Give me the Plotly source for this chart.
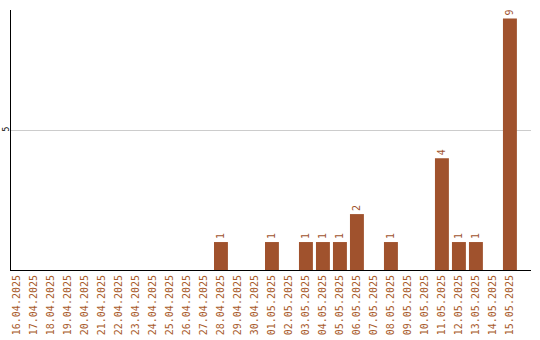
import plotly.graph_objects as go

dates = [
    "16.04.2025", "17.04.2025", "18.04.2025", "19.04.2025", "20.04.2025",
    "21.04.2025", "22.04.2025", "23.04.2025", "24.04.2025", "25.04.2025",
    "26.04.2025", "27.04.2025", "28.04.2025", "29.04.2025", "30.04.2025",
    "01.05.2025", "02.05.2025", "03.05.2025", "04.05.2025", "05.05.2025",
    "06.05.2025", "07.05.2025", "08.05.2025", "09.05.2025", "10.05.2025",
    "11.05.2025", "12.05.2025", "13.05.2025", "14.05.2025", "15.05.2025",
]
counts = [0, 0, 0, 0, 0, 0, 0, 0, 0, 0,
          0, 0, 1, 0, 0, 1, 0, 1, 1, 1,
          2, 0, 1, 0, 0, 4, 1, 1, 0, 9]
y_ticks = [5]

bar_color = "#A0522D"
mono = "DejaVu Sans Mono"

labels = [str(v) if v > 0 else "" for v in counts]

fig = go.Figure(
    go.Bar(
        x=dates,
        y=counts,
        marker=dict(color=bar_color, line=dict(width=0)),
        text=labels,
        textposition="outside",
        textangle=-90,
        cliponaxis=False,
        textfont=dict(family=mono, size=10, color=bar_color),
        hoverinfo="x+y",
    )
)

fig.update_layout(
    width=540,
    height=340,
    margin=dict(l=11, r=9, t=10, b=70),
    plot_bgcolor="white",
    paper_bgcolor="white",
    bargap=0.18,
    showlegend=False,
    xaxis=dict(
        type="category",
        range=[-0.35, 30.24],
        automargin=False,
        showline=True,
        linecolor="black",
        linewidth=1,
        showgrid=False,
        tickangle=-90,
        ticks="",
        tickfont=dict(family=mono, size=10, color="#A85A2A"),
    ),
    yaxis=dict(
        range=[0, 9.3],
        tickvals=y_ticks,
        automargin=False,
        showline=True,
        linecolor="black",
        linewidth=1,
        showgrid=True,
        gridcolor="#cccccc",
        zeroline=False,
        ticks="",
        tickangle=-90,
        ticklabelstandoff=-2,
        tickfont=dict(family=mono, size=8, color="black"),
    ),
)

fig.write_html("out.html")
